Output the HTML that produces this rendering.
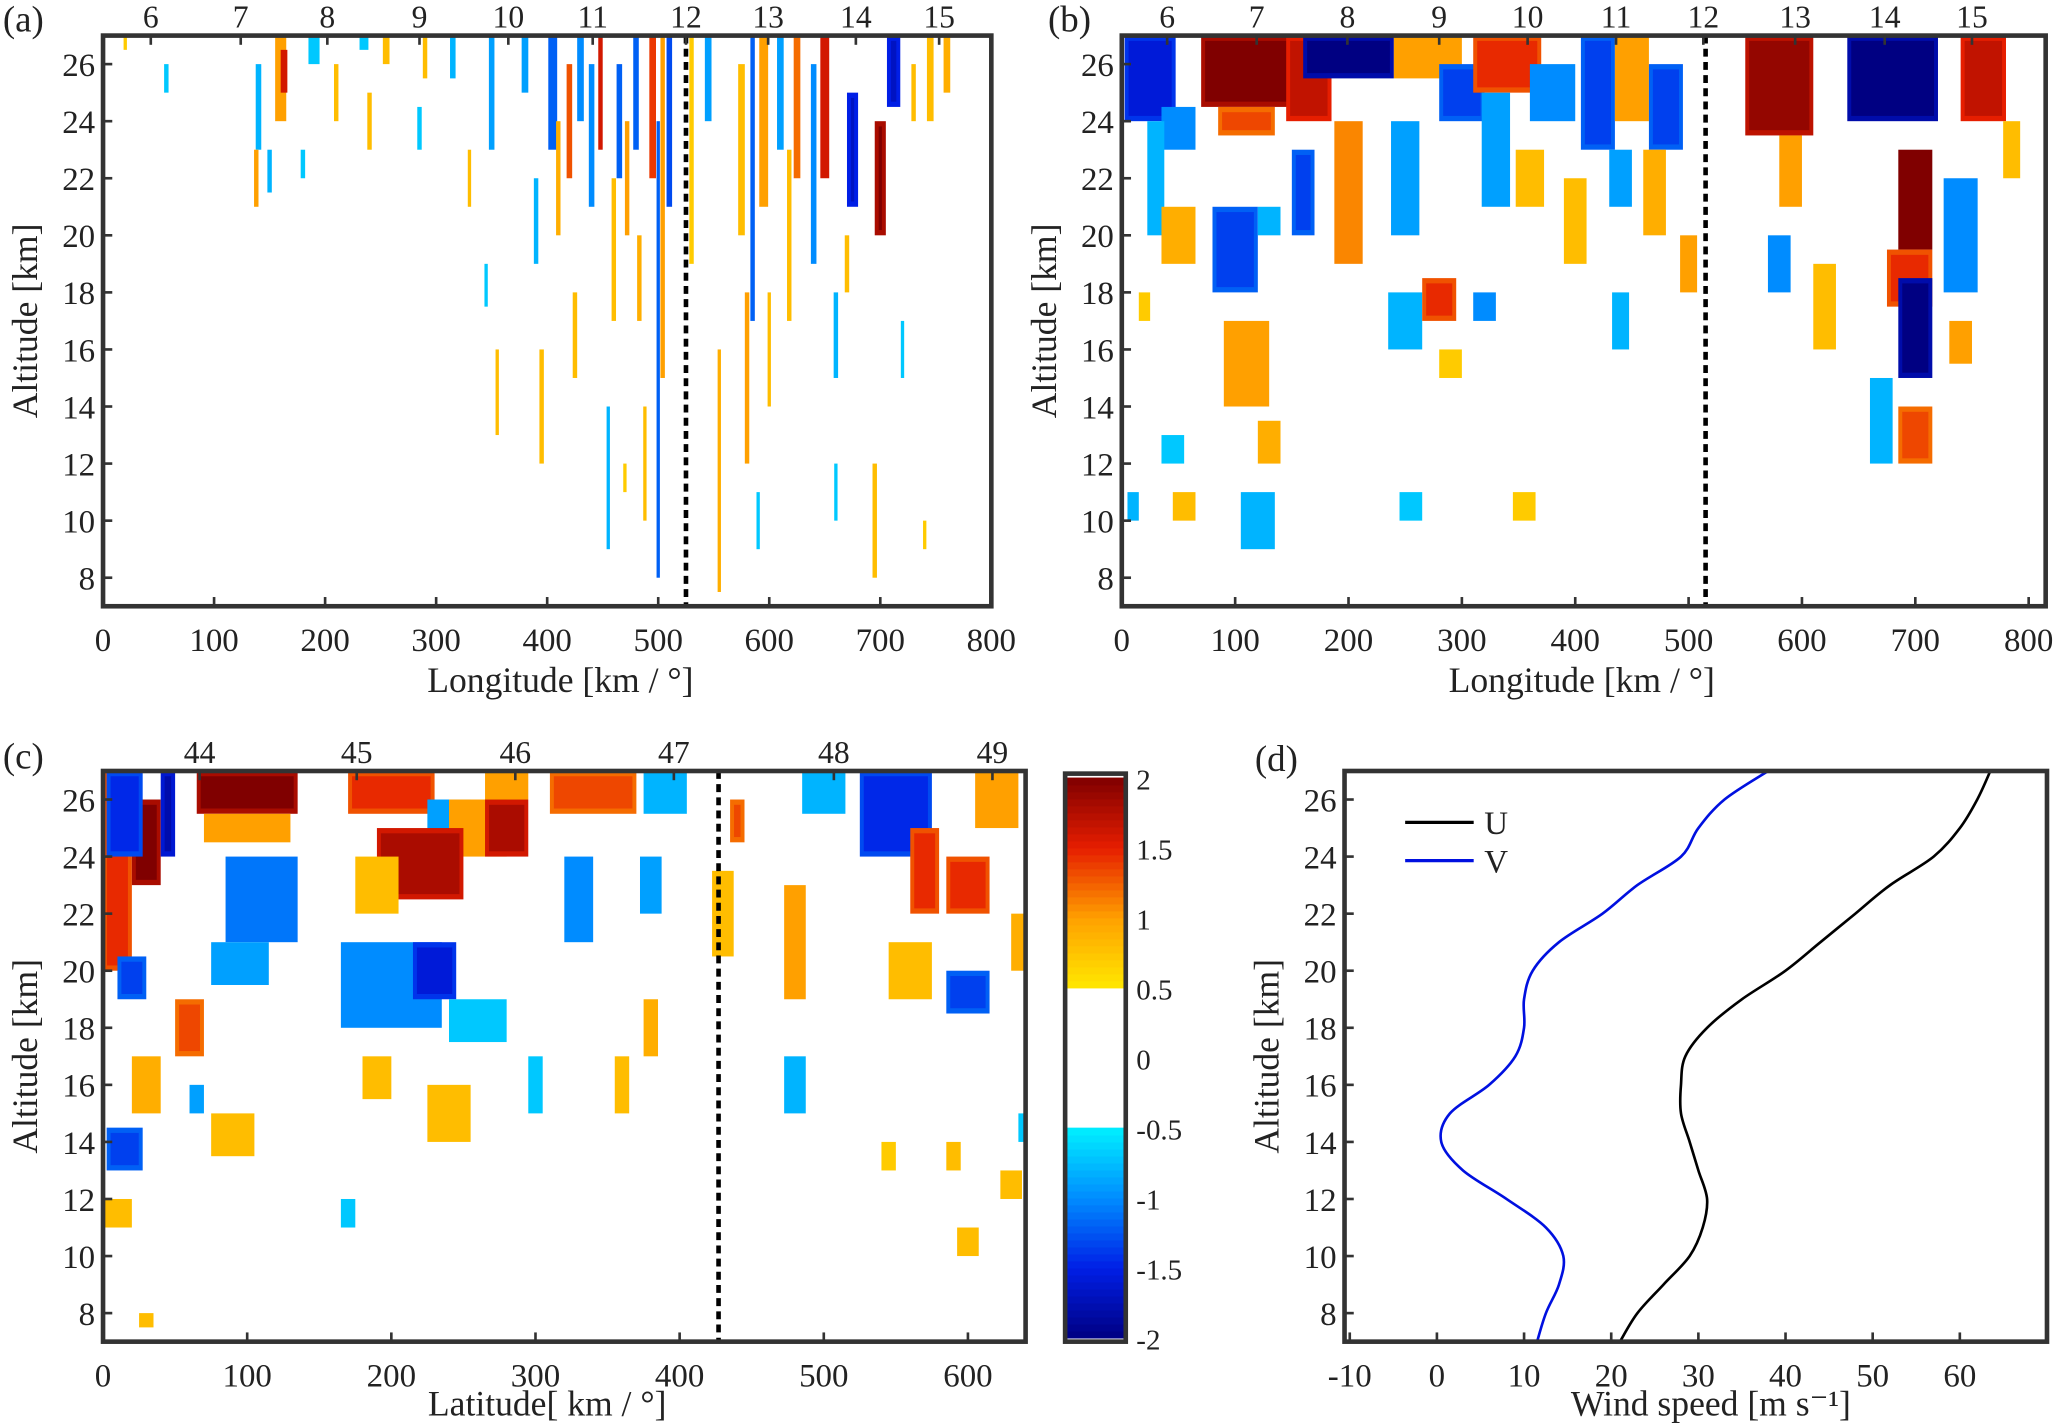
<!DOCTYPE html>
<html><head><meta charset="utf-8"><style>
html,body{margin:0;padding:0;background:#fff;}
svg{display:block;}
svg text{font-family:"Liberation Serif","DejaVu Serif",serif;}
</style></head><body>
<svg id="fig" width="2067" height="1426" viewBox="0 0 1568 1082" xmlns="http://www.w3.org/2000/svg"></svg>
<script>
// ---- data ----
// streaks/blobs: [x_km, alt_bottom, alt_top, width_km, value]
const blobsA = [[20,26.5,27,3,0.7],[57,25,26,4,-0.7],[160,24,27,10,1.0],[163,25,26.5,6,1.6],[140,23,26,5,-0.8],[138,21,23,4,1.0],[150,21.5,23,4,-0.8],[180,22,23,4,-0.7],[190,26,27,10,-0.7],[210,24,26,4,0.8],[235,26.5,27,8,-0.7],[240,23,25,4,0.8],[255,26,27,6,0.8],[285,23,24.5,4,-0.7],[290,25.5,27,4,0.8],[315,25.5,27,5,-0.8],[330,21,23,3,0.8],[345,17.5,19,3,-0.7],[350,23,27,5,-0.9],[355,13,16,3,0.8],[380,25,27,6,-0.9],[390,19,22,4,-0.8],[395,12,16,4,0.8],[405,23,27,8,-1.2],[410,20,24,4,0.9],[420,22,26,5,1.3],[425,15,18,4,0.8],[430,24,27,6,-1.0],[440,21,26,5,-1.0],[448,23,27,4,1.6],[455,9,14,3,-0.8],[460,17,22,4,0.8],[465,22,26,5,-1.2],[472,20,24,4,1.0],[480,23,27,5,-1.2],[483,17,20,4,0.9],[488,10,14,3,0.8],[495,22,27,6,1.4],[500,8,24,3,-1.2],[504,15,27,4,1.0],[510,21,27,5,-1.3],[530,19,27,4,0.7],[545,24,27,6,-0.9],[555,7.5,16,3,0.9],[575,20,26,6,0.8],[580,12,18,4,1.0],[585,17,27,4,-1.2],[595,21,27,8,1.0],[600,14,18,3,0.8],[610,23,27,6,-0.9],[618,17,23,4,0.8],[625,22,27,6,1.2],[640,19,26,5,-1.0],[650,22,27,8,1.6],[660,15,18,4,-0.8],[675,21,25,10,-1.5],[670,18,20,4,0.8],[700,20,24,10,1.8],[695,8,12,4,0.8],[712,24.5,27,12,-1.5],[730,24,26,4,0.8],[745,24,27,6,0.8],[760,25,27,6,0.9],[720,15,17,3,-0.7],[590,9,11,3,-0.7],[660,10,12,3,-0.7],[740,9,10,3,0.7],[470,11,12,3,0.7]];
const blobsB = [[25,24,27,45,-1.4],[50,23,24.5,30,-1.0],[115,24.5,27,90,1.8],[110,23.5,24.5,50,1.2],[165,24,27,40,1.5],[200,25.5,27,80,-1.8],[270,25.5,27,60,1.0],[300,24,26,40,-1.2],[340,25,27,60,1.3],[380,24,26,40,-1.0],[420,23,27,30,-1.2],[450,24,27,30,1.0],[480,23,26,30,-1.2],[30,20,24,15,-0.8],[50,19,21,30,0.9],[100,18,21,40,-1.2],[110,14,17,40,1.0],[130,12,13.5,20,0.9],[120,9,11,30,-0.8],[160,20,23,20,-1.2],[200,19,24,25,1.1],[250,20,24,25,-0.9],[250,16,18,30,-0.8],[280,17,18.5,30,1.3],[320,17,18,20,-1.0],[290,15,16,20,0.7],[355,10,11,20,0.7],[255,10,11,20,-0.7],[55,10,11,20,0.8],[45,12,13,20,-0.7],[330,21,25,25,-0.9],[360,21,23,25,0.8],[400,19,22,20,0.8],[440,21,23,20,-0.9],[470,20,23,20,0.9],[500,18,20,15,1.0],[440,16,18,15,-0.8],[580,23.5,27,60,1.7],[590,21,23.5,20,1.0],[580,18,20,20,-1.0],[620,16,19,20,0.8],[680,24,27,80,-1.8],[700,19.5,23,30,2.0],[695,17.5,19.5,40,1.3],[700,15,18.5,30,-1.8],[740,15.5,17,20,1.0],[700,12,14,30,1.2],[670,12,15,20,-0.8],[740,18,22,30,-1.0],[760,24,27,40,1.5],[785,22,24,15,0.8],[20,17,18,10,0.7],[10,10,11,10,-0.8],[130,20,21,20,-0.8]];
const blobsC = [[10,20,27,20,1.3],[30,23,26,20,1.8],[15,24,27,25,-1.3],[45,24,27,10,-1.6],[100,25.5,27,70,1.8],[100,24.5,25.5,60,1.0],[200,25.5,27,60,1.3],[240,24.5,26,30,-0.9],[260,24,26,40,1.0],[220,22.5,25,60,1.6],[190,22,24,30,0.8],[110,21,24,50,-1.1],[95,19.5,21,40,-0.9],[200,18,21,70,-1.0],[230,19,21,30,-1.4],[260,17.5,19,40,-0.7],[280,24,26,30,1.6],[280,26,27,30,1.0],[340,25.5,27,60,1.2],[390,25.5,27,30,-0.8],[330,21,24,20,-1.0],[380,22,24,15,-0.9],[380,17,19,10,0.9],[430,20.5,23.5,15,0.8],[440,24.5,26,10,1.2],[480,19,23,15,1.0],[30,15,17,20,0.9],[60,17,19,20,1.2],[20,19,20.5,20,-1.2],[15,13,14.5,25,-1.2],[90,13.5,15,30,0.8],[65,15,16,10,-0.9],[10,11,12,20,0.8],[190,15.5,17,20,0.8],[240,14,16,30,0.8],[300,15,17,10,-0.7],[360,15,17,10,0.8],[550,24,27,50,-1.3],[570,22,25,20,1.3],[600,22,24,30,1.3],[620,25,27,30,1.0],[560,19,21,30,0.8],[600,18.5,20,30,-1.2],[640,20,22,20,0.9],[500,25.5,27,30,-0.8],[590,13,14,10,0.8],[630,12,13,15,0.8],[600,10,11,15,0.8],[545,13,14,10,0.7],[480,15,17,15,-0.8],[30,7.5,8,10,0.8],[170,11,12,10,-0.7],[640,14,15,10,-0.7]];
const xTicksLon = [0,100,200,300,400,500,600,700,800];
const degTicksA = [6,7,8,9,10,11,12,13,14,15];
const degPosA = [43,124,202,285,365,441,525,599,678,753];
const degPosB = [40,119,199,280,358,436,513,594,673,750];
const xTicksLat = [0,100,200,300,400,500,600];
const latTicks = [44,45,46,47,48,49];
const latPos = [67,176,286,396,507,617];
const altTicks = [8,10,12,14,16,18,20,22,24,26];
const cbTicks = [2,1.5,1,0.5,0,-0.5,-1,-1.5,-2];
const windTicks = [-10,0,10,20,30,40,50,60];
const altU = [7,8,9,10,11,12,13,14,15,16,17,18,19,20,21,22,23,24,25,26,27];
const valU = [21,23,26,29,30.5,31,30,29,28,28,28.5,31,35,40,44,48,52,57,60,62,63.5];
const valV = [11.5,12.5,14,14.5,12.5,8,3,0.5,1.5,6,9,10,10,11,14,19,23,28,30,33,38];

// ---- helpers ----
const svg = document.getElementById('fig');
const NS = 'http://www.w3.org/2000/svg';
function mk(tag, attrs, parent){const e=document.createElementNS(NS,tag);for(const k in attrs)e.setAttribute(k,attrs[k]);(parent||svg).appendChild(e);return e;}
function txt(s,x,y,size,anchor,parent){const t=mk('text',{x:x,y:y,'font-size':size,'text-anchor':anchor||'middle',fill:'#222','font-family':'Liberation Serif, DejaVu Serif, serif'},parent);t.textContent=s;return t;}
const stopsP=[[0.5,[255,232,0]],[1,[255,160,0]],[1.5,[230,30,0]],[2,[128,0,0]]];
const stopsN=[[0.5,[0,240,255]],[1,[0,140,255]],[1.5,[0,30,230]],[2,[0,0,130]]];
function cmap(v){const a=Math.min(Math.abs(v),2);const s=v>0?stopsP:stopsN;for(let i=0;i<s.length-1;i++){if(a<=s[i+1][0]){const t=(a-s[i][0])/(s[i+1][0]-s[i][0]);const c=s[i][1].map((c0,j)=>Math.round(c0+(s[i+1][1][j]-c0)*t));return 'rgb('+c.join(',')+')';}}return 'rgb('+s[3][1].join(',')+')';}
function smooth(pts){let d='M'+pts[0][0].toFixed(1)+','+pts[0][1].toFixed(1);for(let i=0;i<pts.length-1;i++){const p0=pts[Math.max(0,i-1)],p1=pts[i],p2=pts[i+1],p3=pts[Math.min(pts.length-1,i+2)];
  const c1=[p1[0]+(p2[0]-p0[0])/6,p1[1]+(p2[1]-p0[1])/6],c2=[p2[0]-(p3[0]-p1[0])/6,p2[1]-(p3[1]-p1[1])/6];
  d+='C'+c1[0].toFixed(1)+','+c1[1].toFixed(1)+' '+c2[0].toFixed(1)+','+c2[1].toFixed(1)+' '+p2[0].toFixed(1)+','+p2[1].toFixed(1);}return d;}

function panel(o){
  const g=mk('g',{});
  
  
  const X=v=>o.x0+(v-o.xmin)*(o.x1-o.x0)/(o.xmax-o.xmin);
  const Y=a=>o.y1-(a-7)*(o.y1-o.y0)/20;
  const clip='clip-'+o.name;
  const cp=mk('clipPath',{id:clip},g);mk('rect',{x:o.x0,y:o.y0,width:o.x1-o.x0,height:o.y1-o.y0},cp);
  const cg=mk('g',{'clip-path':'url(#'+clip+')'},g);
  if(o.blobs){
    o.blobs.forEach(b=>{
      const w=X(b[3])-X(0);
      const r=mk('rect',{x:X(b[0]-b[3]/2),y:Y(b[2]),width:w,height:Y(b[1])-Y(b[2]),fill:cmap(b[4])},cg);
      
      
      if(Math.abs(b[4])>1.1 && b[3]>8){
        mk('rect',{x:X(b[0]-b[3]/2)+3,y:Y(b[2])+4,width:Math.max(0,w-6),height:Math.max(0,Y(b[1])-Y(b[2])-8),fill:cmap(b[4]*1.12)},cg);
      }
    });
  }
  if(o.dash!==undefined){const l=mk('line',{x1:X(o.dash),x2:X(o.dash),y1:o.y0,y2:o.y1,stroke:'#000','stroke-width':3.5,'stroke-dasharray':'6,4'},g);
    }
  if(o.lines){o.lines.forEach(L=>{const pts=L.vals.map((v,i)=>[X(v),Y(altU[i])]);
    const p=mk('path',{d:smooth(pts),fill:'none',stroke:L.color,'stroke-width':2,'stroke-linejoin':'round'},cg);
    });}
  mk('rect',{x:o.x0,y:o.y0,width:o.x1-o.x0,height:o.y1-o.y0,fill:'none',stroke:'#333','stroke-width':3.5},g);
  altTicks.forEach(a=>{mk('line',{x1:o.x0,x2:o.x0+7,y1:Y(a),y2:Y(a),stroke:'#333','stroke-width':2},g);txt(String(a),o.x0-6,Y(a)+9,25,'end',g);});
  o.xt.forEach(v=>{mk('line',{x1:X(v),x2:X(v),y1:o.y1,y2:o.y1-7,stroke:'#333','stroke-width':2},g);txt(String(v),X(v),o.y1+34,25,'middle',g);});
  if(o.top){o.top.forEach((t,i)=>{mk('line',{x1:X(o.topPos[i]),x2:X(o.topPos[i]),y1:o.y0,y2:o.y0+7,stroke:'#333','stroke-width':2},g);txt(String(t),X(o.topPos[i]),o.y0-6,24,'middle',g);});}
  const xl=txt(o.xlabel,o.xlx,o.y1+o.xly,27,'middle',g);
  const yl=txt('Altitude [km]',0,0,27,'middle',g);yl.setAttribute('transform','translate('+(o.x0-50)+','+((o.y0+o.y1)/2)+') rotate(-90)');
  
  const pl=txt(o.label,o.lx,o.ly,28,'start',g);
  return {X,Y,g};
}

panel({name:'panel-a',x0:78,x1:752,y0:27,y1:460,xmin:0,xmax:800,blobs:blobsA,dash:525,xt:xTicksLon,top:degTicksA,topPos:degPosA,xlabel:'Longitude [km / °]',xlx:425,xly:65,label:'(a)',lx:2,ly:24});
panel({name:'panel-b',x0:851,x1:1552,y0:27,y1:460,xmin:0,xmax:815,blobs:blobsB,dash:515,xt:xTicksLon,top:degTicksA,topPos:degPosB,xlabel:'Longitude [km / °]',xlx:1200,xly:65,label:'(b)',lx:795,ly:24});
panel({name:'panel-c',x0:78,x1:778,y0:585,y1:1018,xmin:0,xmax:640,blobs:blobsC,dash:427,xt:xTicksLat,top:latTicks,topPos:latPos,xlabel:'Latitude[ km / °]',xlx:415,xly:56,label:'(c)',lx:2,ly:583});
panel({name:'panel-d',x0:1020,x1:1553,y0:585,y1:1018,xmin:-10.6,xmax:70,xt:windTicks,xlabel:'Wind speed [m s⁻¹]',xlx:1298,xly:56,label:'(d)',lx:952,ly:585,
  lines:[{name:'u-wind-line',color:'#000',vals:valU},{name:'v-wind-line',color:'#0010e0',vals:valV}]});
const lg=mk('g',{});
mk('line',{x1:1066,x2:1118,y1:624,y2:624,stroke:'#000','stroke-width':2.5},lg);txt('U',1126,633,25,'start',lg);
mk('line',{x1:1066,x2:1118,y1:653,y2:653,stroke:'#0010e0','stroke-width':2.5},lg);txt('V',1126,662,25,'start',lg);

const cb=mk('g',{});
const cbY=v=>1015-(v+2)*(1015-590)/4;
for(let v=-2;v<2;v+=0.05){if(Math.abs(v+0.025)<0.5)continue;mk('rect',{x:809,y:cbY(v+0.05),width:45,height:cbY(v)-cbY(v+0.05)+0.6,fill:cmap(v+0.025)},cb);}
mk('rect',{x:808,y:587,width:46,height:431,fill:'none',stroke:'#333','stroke-width':3.5},cb);
cbTicks.forEach(t=>{txt(String(t),862,cbY(t)+9,22,'start',cb);});
</script>
</body></html>
